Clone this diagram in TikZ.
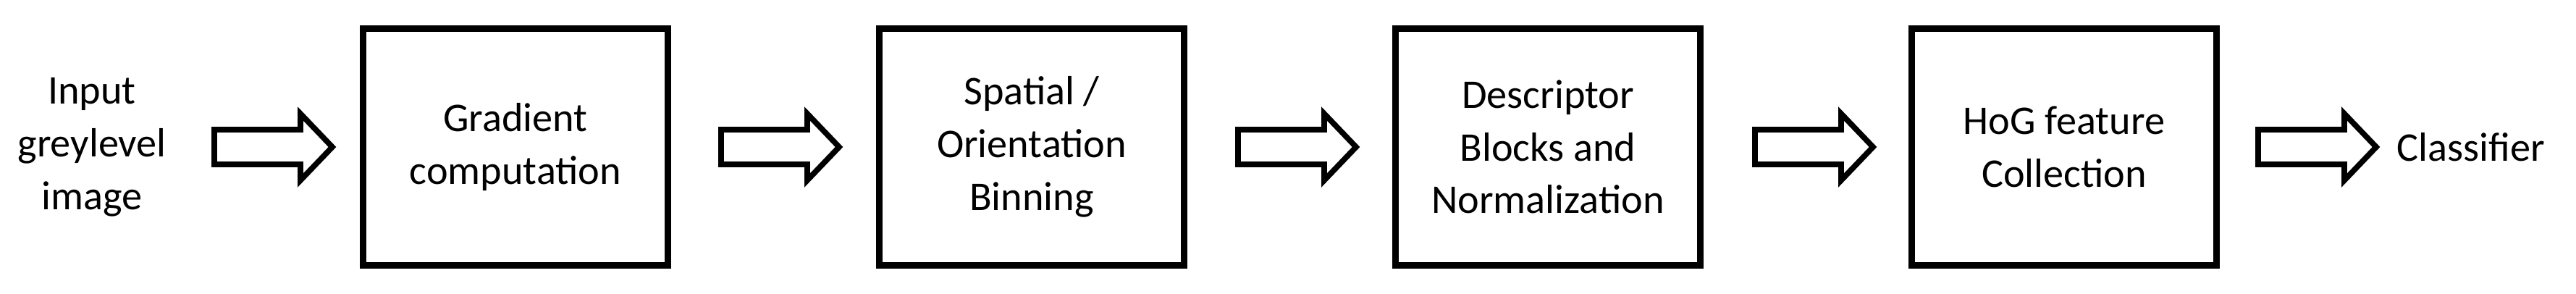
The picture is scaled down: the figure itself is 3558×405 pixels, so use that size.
\documentclass[tikz,border=0pt]{standalone}
\usepackage{fontspec}
\setmainfont{Carlito}
\begin{document}
\begin{tikzpicture}[x=0.01cm,y=-0.01cm,
  stage/.style={draw,line width=2.6pt,minimum width=4.2cm,minimum height=3.27cm,align=center,inner sep=0pt},
  lbl/.style={align=center,font=\fontsize{16}{20.7}\selectfont},
  fat/.style={line width=2.2pt,line join=miter}]
\useasboundingbox (0,0) rectangle (3558,405);
\foreach \i/\t [count=\k from 0] in {b1/{Gradient\\computation},b2/{Spatial /\\Orientation\\Binning},b3/{Descriptor\\Blocks and\\Normalization},b4/{HoG feature\\Collection}}{
  \node[stage,lbl] (\i) at ({712+\k*713},203) {\t};
}
\node[lbl] (in) at (127,203) {Input\\greylevel\\image};
\node[lbl] (out) at (3413,203) {Classifier};
\foreach \x [count=\k] in {296,996,1710,2424,3119}{
  \coordinate (a\k) at (\x,203);
  \draw[fat] (a\k) ++(0,-24) -- ++(119,0) -- ++(0,-22) -- ++(44,46) -- ++(-44,46) -- ++(0,-22) -- ++(-119,0) -- cycle;
}
\end{tikzpicture}
\end{document}
